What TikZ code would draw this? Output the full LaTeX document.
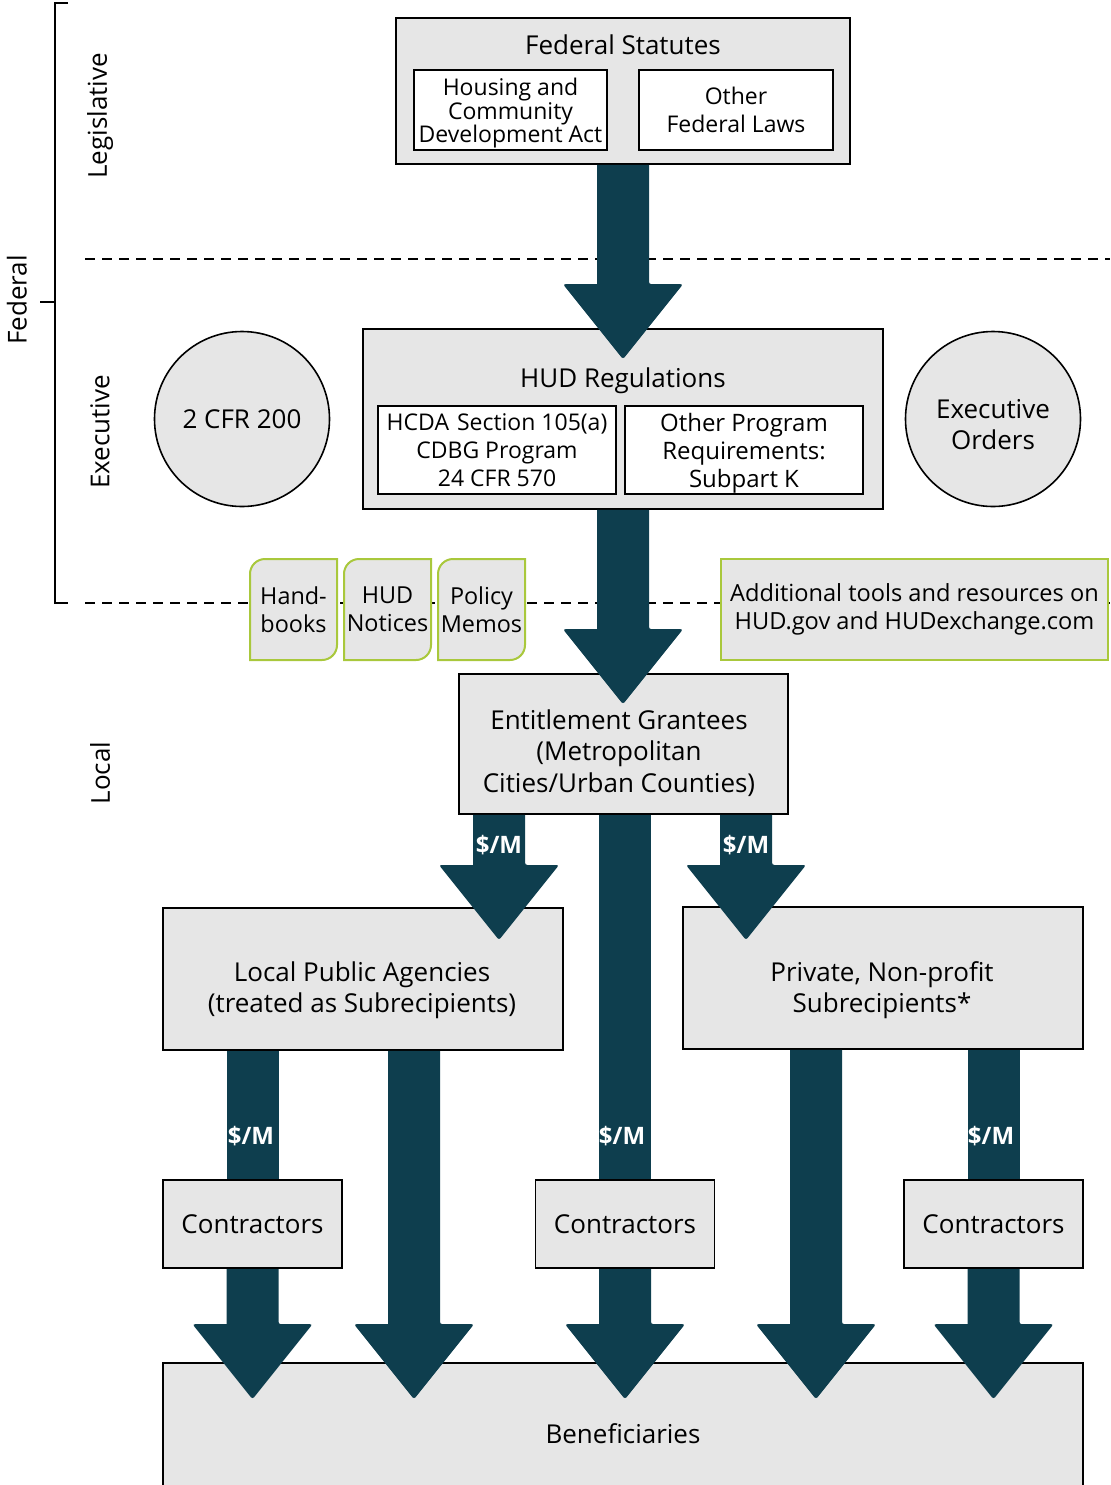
\documentclass[tikz,border=0pt]{standalone}
\usepackage{fontspec}
\setmainfont{Open Sans}
\usetikzlibrary{positioning,calc}
\definecolor{arrowteal}{HTML}{0E3E4E}
\definecolor{boxgray}{HTML}{E6E6E6}
\definecolor{tabgreen}{HTML}{A9C83C}
\pgfdeclarelayer{front}
\pgfsetlayers{main,front}

% fat arrow straight down: shaft 26pt, head 60pt x 37.5pt
\newcommand{\bigarrow}[2]{%
  \fill[arrowteal] let \p1=#1, \p2=#2 in
    (\x1-13pt,\y1) -- (\x1-13pt,\y2+37.5pt) [rounded corners=1.2pt]
    -- (\x1-30pt,\y2+37.5pt) -- (\x1,\y2) -- (\x1+30pt,\y2+37.5pt)
    -- (\x1+13pt,\y2+37.5pt) [sharp corners] -- (\x1+13pt,\y1) -- cycle;}
% shaft only
\newcommand{\shaft}[2]{%
  \fill[arrowteal] let \p1=#1, \p2=#2 in
    (\x1-13pt,\y1) rectangle (\x1+13pt,\y2);}

\begin{document}
\begin{tikzpicture}[x=0.5pt, y=-0.5pt,
    box/.style={draw=black, fill=boxgray, line width=0.8pt, inner sep=0pt,
      align=center, font=\fontsize{13}{15.7}\selectfont},
    inbox/.style={draw=black, fill=white, line width=0.7pt, inner sep=0pt,
      align=center, font=\fontsize{11.5}{14}\selectfont},
    circ/.style={circle, draw=black, fill=boxgray, line width=0.8pt,
      minimum size=87.5pt, inner sep=0pt, align=center,
      font=\fontsize{13}{15.7}\selectfont},
    greenbox/.style={draw=tabgreen, fill=boxgray, line width=1pt},
    tabtext/.style={align=center, inner sep=0pt, font=\fontsize{11.7}{14}\selectfont},
    title/.style={align=center, font=\fontsize{13}{15.7}\selectfont},
    side/.style={rotate=90, font=\fontsize{13}{15.7}\selectfont},
    money/.style={text=white, inner sep=0pt, font=\bfseries\fontsize{12}{14}\selectfont},
    sep/.style={dash pattern=on 5pt off 3.5pt, line width=0.7pt}]
  \useasboundingbox (0,0) rectangle (1110,1485);

  % Levels
  \draw[line width=0.8pt] (68,3) -- (55,3) -- (55,603) -- (68,603);
  \draw[line width=0.8pt] (40,302) -- (55,302);
  \node[side] (federal) at (17,300) {Federal};
  \node[side] (legis) at (100,116) {Legislative};
  \node[side] (exec) at (100,432) {Executive};
  \node[side] (local) at (100,773) {Local};
  \draw[sep] (85,259) -- (1110,259);
  \draw[sep] (85,603) -- (1110,603);

  % Statutes
  \node[box, minimum width=227pt, minimum height=73pt] (fs) at (623,91) {};
  \node[title] (fstitle) at (623,45) {Federal Statutes};
  \node[inbox, minimum width=96.5pt, minimum height=40pt,
    font=\fontsize{11.5}{11.8}\selectfont] (hcdact) at (510.5,110)
    {\rule{0pt}{12pt}Housing and\\Community\\Development Act};
  \node[inbox, minimum width=97pt, minimum height=40pt] (otherlaws) at (736,110)
    {Other\\Federal Laws};

  % Regulations
  \node[box, minimum width=260pt, minimum height=90pt] (hud) at (623,419) {};
  \node[title] (hudtitle) at (623,381) {HUD Regulations};
  \node[inbox, minimum width=119pt, minimum height=44pt,
    font=\fontsize{11.5}{14}\selectfont] (hcda) at (497,450)
    {HCDA\hspace{1pt} Section 105(a)\\CDBG Program\\24 CFR 570};
  \node[inbox, minimum width=119pt, minimum height=44pt,
    font=\fontsize{12}{14}\selectfont] (otherreq) at (744,450)
    {\rule{0pt}{12pt}Other Program\\Requirements:\\Subpart K};
  \node[circ] (cfr) at (242,419) {2 CFR 200};
  \node[circ] (eo) at (993,419) {\rule{0pt}{15pt}Executive\\Orders};

  % Guidance
  \foreach \x/\tname/\ttext in {250/hb/{Hand-\\books}, 344/hn/{HUD\\Notices}, 438/pm/{Policy\\Memos}} {
    \draw[greenbox] (\x,660) -- (\x,574) .. controls (\x,565.7) and (\x+6.7,559) .. (\x+15,559)
      -- (\x+87,559) -- (\x+87,645) .. controls (\x+87,653.3) and (\x+80.3,660) .. (\x+72,660) -- cycle;
    \node[tabtext] (\tname) at (\x+43.5,609.5) {\ttext};
  }
  \node[box, draw=tabgreen, line width=1pt, minimum width=193.5pt, minimum height=50.5pt,
    font=\fontsize{11.8}{14}\selectfont] (tools) at (914.5,609.5)
    {Additional tools and resources on\\HUD.gov and HUDexchange.com};

  % Local
  \node[box, minimum width=164.5pt, minimum height=70pt] (ent) at (623.5,744) {};
  \node[title] (enttext) at (619,753) {Entitlement Grantees\\(Metropolitan\\Cities/Urban Counties)};
  \node[box, minimum width=200pt, minimum height=71pt] (lpa) at (363,979) {};
  \node[title] (lpatext) at (362,990) {Local Public Agencies\\(treated as Subrecipients)};
  \node[box, minimum width=200pt, minimum height=71pt] (pnp) at (883,978) {};
  \node[title] (pnptext) at (882,990) {Private, Non-profit\\Subrecipients*};
  \node[box, minimum width=460pt, minimum height=71pt] (ben) at (623,1434) {Beneficiaries};
  \begin{pgfonlayer}{front}
    \node[box, minimum width=89.5pt, minimum height=44pt] (c1) at (252.5,1224) {Contractors};
    \node[box, minimum width=89.5pt, minimum height=44pt] (c2) at (625,1224) {Contractors};
    \node[box, minimum width=89.5pt, minimum height=44pt] (c3) at (993.5,1224) {Contractors};
  \end{pgfonlayer}

  % Arrows
  \coordinate (lpatip) at (499,940);
  \coordinate (pnptip) at (746,940);
  \coordinate (benin) at ([yshift=-18.5pt]ben.north);
  \coordinate (lpaout) at ([xshift=25.5pt]lpa.south);
  \coordinate (pnpout) at ([xshift=-33.5pt]pnp.south);
  \bigarrow{(fs.south)}{([yshift=-15.5pt]hud.north)}
  \bigarrow{(hud.south)}{([yshift=-15.5pt]ent.north)}
  \bigarrow{(ent.south -| lpatip)}{(lpatip)}
  \bigarrow{(ent.south -| pnptip)}{(pnptip)}
  \shaft{(ent.south -| c2.north)}{(c2.north)}
  \bigarrow{(c2.south)}{(c2.south |- benin)}
  \shaft{(lpa.south -| c1.north)}{(c1.north)}
  \bigarrow{(c1.south)}{(c1.south |- benin)}
  \bigarrow{(lpaout)}{(lpaout |- benin)}
  \bigarrow{(pnpout)}{(pnpout |- benin)}
  \shaft{(pnp.south -| c3.north)}{(c3.north)}
  \bigarrow{(c3.south)}{(c3.south |- benin)}

  % Money labels
  \node[money] (m1) at (499,845) {\$/M};
  \node[money] (m2) at (746,845) {\$/M};
  \node[money] (m3) at (251,1136) {\$/M};
  \node[money] (m4) at (622,1136) {\$/M};
  \node[money] (m5) at (991,1136) {\$/M};
\end{tikzpicture}
\end{document}
